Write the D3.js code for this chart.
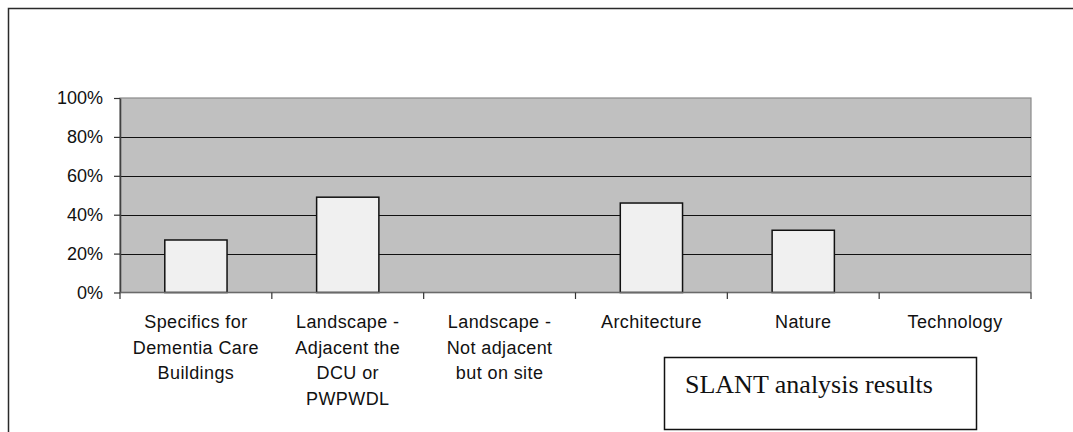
<!DOCTYPE html>
<html>
<head>
<meta charset="utf-8">
<script src="https://cdn.jsdelivr.net/npm/d3@7"></script>
<style>
  html, body { margin: 0; padding: 0; background: #ffffff; }
  svg { display: block; }
</style>
</head>
<body>
<script>
// Share of responses per theme
const categories = [
  "Specifics for\nDementia Care\nBuildings",
  "Landscape -\nAdjacent the\nDCU or\nPWPWDL",
  "Landscape -\nNot adjacent\nbut on site",
  "Architecture",
  "Nature",
  "Technology"
];
const values = [0.27, 0.49, 0, 0.46, 0.32, 0];
const yTicks = [0, 0.2, 0.4, 0.6, 0.8, 1.0];
const captionText = "SLANT analysis results";

const W = 1073, H = 432;
const plot = { left: 120, right: 1031, top: 98, bottom: 292.5 };

const svg = d3.select("body").append("svg")
  .attr("width", W).attr("height", H);

// Outer frame (open on the right and bottom edges)
svg.append("path")
  .attr("d", `M8.5,${H} L8.5,8.5 L${W},8.5`)
  .attr("fill", "none").attr("stroke", "#2a2a2a").attr("stroke-width", 1.5);

const x = d3.scaleBand()
  .domain(categories)
  .range([plot.left, plot.right])
  .paddingInner(0.59)
  .paddingOuter(0.295);

const y = d3.scaleLinear()
  .domain([0, 1])
  .range([plot.bottom, plot.top]);

// Plot area background
svg.append("rect")
  .attr("x", plot.left).attr("y", plot.top)
  .attr("width", plot.right - plot.left).attr("height", plot.bottom - plot.top)
  .attr("fill", "#c0c0c0")
  .attr("stroke", "#8a8a8a").attr("stroke-width", 1.2);

// Horizontal gridlines
svg.append("g").selectAll("line")
  .data(yTicks.filter(t => t > 0 && t < 1))
  .join("line")
  .attr("x1", plot.left).attr("x2", plot.right)
  .attr("y1", d => Math.round(y(d)) + 0.5).attr("y2", d => Math.round(y(d)) + 0.5)
  .attr("stroke", "#111").attr("stroke-width", 1);

// Bars
svg.append("g").selectAll("rect")
  .data(categories.map((c, i) => ({ c, v: values[i] })).filter(d => d.v > 0))
  .join("rect")
  .attr("x", d => x(d.c))
  .attr("y", d => y(d.v))
  .attr("width", x.bandwidth())
  .attr("height", d => y(0) - y(d.v))
  .attr("fill", "#f0f0f0")
  .attr("stroke", "#111").attr("stroke-width", 1.5);

// Y axis
const yAxis = d3.axisLeft(y)
  .tickValues(yTicks)
  .tickFormat(d3.format(".0%"))
  .tickSizeInner(6).tickSizeOuter(0).tickPadding(11);
const gy = svg.append("g")
  .attr("transform", `translate(${plot.left},0)`)
  .call(yAxis);
gy.select(".domain").attr("stroke", "#404040").attr("stroke-width", 1.6);
gy.selectAll(".tick line").attr("stroke", "#333").attr("stroke-width", 1.2);
gy.selectAll(".tick text")
  .attr("font-family", "Arial, 'Liberation Sans', sans-serif")
  .attr("font-size", 18).attr("fill", "#111");

// X axis: ticks at band boundaries
const gx = svg.append("g");
gx.append("line")
  .attr("x1", plot.left).attr("x2", plot.right)
  .attr("y1", plot.bottom).attr("y2", plot.bottom)
  .attr("stroke", "#6a6a6a").attr("stroke-width", 1.4);
const bounds = categories.map(c => x(c) - x.step() * x.paddingInner() / 2);
bounds.push(plot.right);
bounds[0] = plot.left;
gx.selectAll("line.tick")
  .data(bounds)
  .join("line").attr("class", "tick")
  .attr("x1", d => d).attr("x2", d => d)
  .attr("y1", plot.bottom).attr("y2", plot.bottom + 6.5)
  .attr("stroke", "#333").attr("stroke-width", 1.2);

// Category labels
const lbl = gx.selectAll("text.cat")
  .data(categories)
  .join("text").attr("class", "cat")
  .attr("text-anchor", "middle")
  .attr("font-family", "Arial, 'Liberation Sans', sans-serif")
  .attr("font-size", 18).attr("fill", "#111")
  .attr("letter-spacing", 0.4);
lbl.selectAll("tspan")
  .data(d => d.split("\n").map(s => ({ s, c: d })))
  .join("tspan")
  .attr("x", d => x(d.c) + x.bandwidth() / 2)
  .attr("y", (d, i) => 328 + i * 25.7)
  .text(d => d.s);

// Caption box
svg.append("rect")
  .attr("x", 664.5).attr("y", 357.5)
  .attr("width", 312).attr("height", 72)
  .attr("fill", "#fff").attr("stroke", "#111").attr("stroke-width", 1.5);
svg.append("text")
  .attr("x", 685).attr("y", 393)
  .attr("font-family", "'Times New Roman', 'Liberation Serif', serif")
  .attr("font-size", 26).attr("fill", "#111")
  .text(captionText);
</script>
</body>
</html>
